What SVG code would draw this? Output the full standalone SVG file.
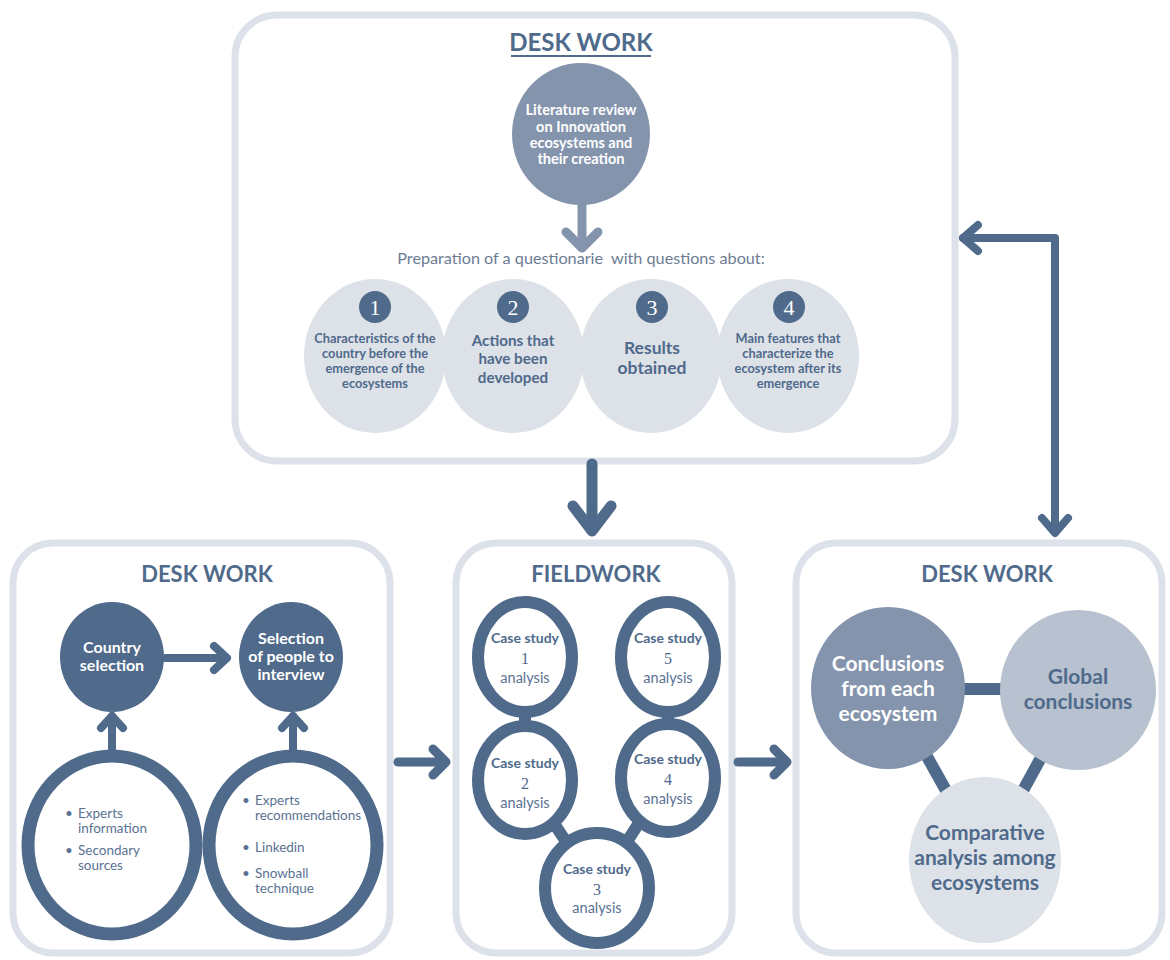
<svg xmlns="http://www.w3.org/2000/svg" width="1170" height="960" viewBox="0 0 1170 960">
<style>
  text { font-family: Lato, "Noto Sans", sans-serif; text-anchor: middle; }
  .panel { fill: #ffffff; stroke: #dde2ea; stroke-width: 7; }
  .title { font-weight: 700; fill: #4f6a8b; font-size: 22px; }
  .dark { fill: #4f6a8b; }
  .med { fill: #8494ad; }
  .lmed { fill: #b7c1cf; }
  .light { fill: #dde1e8; }
  .ring { fill: #ffffff; stroke: #4f6a8b; stroke-width: 12; }
  .wtxt { fill: #ffffff; font-weight: 700; }
  .dtxt { fill: #4f6a8b; font-weight: 700; }
  .ntxt { fill: #5a7292; font-weight: 400; }
  .num { font-family: "Liberation Serif", serif; fill: #ffffff; font-size: 22px; }
  .cnum { font-family: "Liberation Serif", serif; fill: #4f6a8b; font-size: 16px; }
  .conn { fill: none; stroke: #4f6a8b; stroke-linecap: round; stroke-linejoin: round; }
  .bar { stroke: #4f6a8b; stroke-width: 12; }
  .bul { text-anchor: start; }
</style>
<rect width="1170" height="960" fill="#ffffff"/>

<g id="panel-top">
  <rect class="panel" x="235" y="15" width="720" height="446" rx="42"/>
  <text class="title" x="581" y="51" style="font-size:24px">DESK WORK</text>
  <line x1="511" y1="56" x2="651" y2="56" stroke="#4f6a8b" stroke-width="1.8"/>
</g>
<g id="panel-left">
  <rect class="panel" x="13" y="543" width="377" height="410" rx="40"/>
  <text class="title" x="207" y="582">DESK WORK</text>
</g>
<g id="panel-field">
  <rect class="panel" x="456" y="543" width="276" height="410" rx="40"/>
  <text class="title" x="596" y="582">FIELDWORK</text>
</g>
<g id="panel-right">
  <rect class="panel" x="796" y="543" width="366" height="410" rx="40"/>
  <text class="title" x="987" y="582">DESK WORK</text>
</g>

<g id="connectors">
  <line x1="582" y1="200" x2="582" y2="246" stroke="#8494ad" stroke-width="9"/>
  <path d="M566,232 L582,248 L598,232" fill="none" stroke="#8494ad" stroke-width="9" stroke-linecap="round" stroke-linejoin="round"/>
  <path class="conn" d="M592,464 V530" stroke-width="11"/>
  <path class="conn" d="M573,506 L592,531 L611,506" stroke-width="11"/>
  <path class="conn" d="M398,762 H445" stroke-width="9"/>
  <path class="conn" d="M433,749 L446,762 L433,775" stroke-width="9"/>
  <path class="conn" d="M738,762 H786" stroke-width="9"/>
  <path class="conn" d="M774,749 L787,762 L774,775" stroke-width="9"/>
  <path class="conn" d="M963,238 H1055 V532" stroke-width="8"/>
  <path class="conn" d="M978,225 L963,238 L978,251" stroke-width="8"/>
  <path class="conn" d="M1042,518 L1055,533 L1068,518" stroke-width="8"/>
  <path class="conn" d="M165,658 H226" stroke-width="8"/>
  <path class="conn" d="M214,646 L227,658 L214,670" stroke-width="8"/>
  <path class="conn" d="M112,757 V716" stroke-width="8"/>
  <path class="conn" d="M101,728 L112,716 L123,728" stroke-width="8"/>
  <path class="conn" d="M293,757 V716" stroke-width="8"/>
  <path class="conn" d="M282,728 L293,716 L304,728" stroke-width="8"/>
  <line class="bar" x1="525" y1="657" x2="525" y2="780"/>
  <line class="bar" x1="668" y1="657" x2="668" y2="778"/>
  <line class="bar" x1="525" y1="780" x2="597" y2="888"/>
  <line class="bar" x1="668" y1="778" x2="597" y2="888"/>
  <line class="bar" x1="888" y1="689" x2="1078" y2="689"/>
  <line class="bar" x1="888" y1="687" x2="985" y2="860"/>
  <line class="bar" x1="1078" y1="690" x2="985" y2="860"/>
</g>

<g id="literature">
  <ellipse class="med" cx="581" cy="134" rx="69" ry="71"/>
  <text class="wtxt" style="font-size:14.6px"><tspan x="581" y="115">Literature review</tspan><tspan x="581" y="132">on Innovation</tspan><tspan x="581" y="148">ecosystems and</tspan><tspan x="581" y="164">their creation</tspan></text>
</g>
<g id="preparation">
  <text x="581" y="264" fill="#6c7c93" xml:space="preserve" style="font-size:16.2px">Preparation of a questionarie  with questions about:</text>
</g>
<g id="q1">
  <ellipse class="light" cx="375" cy="356" rx="71" ry="77"/>
  <circle class="dark" cx="375" cy="307" r="16"/>
  <text class="num" x="375" y="315">1</text>
  <text class="dtxt" style="font-size:12.8px"><tspan x="375" y="343">Characteristics of the</tspan><tspan x="375" y="358">country before the</tspan><tspan x="375" y="373">emergence of the</tspan><tspan x="375" y="388">ecosystems</tspan></text>
</g>
<g id="q2">
  <ellipse class="light" cx="513" cy="356" rx="71" ry="77"/>
  <circle class="dark" cx="513" cy="307" r="16"/>
  <text class="num" x="513" y="315">2</text>
  <text class="dtxt" style="font-size:15.2px"><tspan x="513" y="346">Actions that</tspan><tspan x="513" y="364">have been</tspan><tspan x="513" y="383">developed</tspan></text>
</g>
<g id="q3">
  <ellipse class="light" cx="651" cy="356" rx="71" ry="77"/>
  <circle class="dark" cx="652" cy="307" r="16"/>
  <text class="num" x="652" y="315">3</text>
  <text class="dtxt" style="font-size:17.5px"><tspan x="652" y="354">Results</tspan><tspan x="652" y="374">obtained</tspan></text>
</g>
<g id="q4">
  <ellipse class="light" cx="788" cy="356" rx="71" ry="77"/>
  <circle class="dark" cx="789" cy="307" r="16"/>
  <text class="num" x="789" y="315">4</text>
  <text class="dtxt" style="font-size:12.8px"><tspan x="788" y="343">Main features that</tspan><tspan x="788" y="358">characterize the</tspan><tspan x="788" y="373">ecosystem after its</tspan><tspan x="788" y="388">emergence</tspan></text>
</g>

<g id="country">
  <ellipse class="dark" cx="112" cy="657" rx="52" ry="55"/>
  <text class="wtxt" style="font-size:16px"><tspan x="112" y="653">Country</tspan><tspan x="112" y="671">selection</tspan></text>
</g>
<g id="people">
  <ellipse class="dark" cx="291" cy="657" rx="52" ry="55"/>
  <text class="wtxt" style="font-size:16px"><tspan x="291" y="644">Selection</tspan><tspan x="291" y="662">of people to</tspan><tspan x="291" y="680">interview</tspan></text>
</g>
<g id="sources">
  <ellipse class="ring" cx="112" cy="845" rx="84" ry="89" style="stroke-width:13"/>
  <text class="ntxt bul" style="font-size:13.5px"><tspan x="65" y="818">•</tspan><tspan x="78" y="818">Experts</tspan><tspan x="78" y="833">information</tspan><tspan x="65" y="855">•</tspan><tspan x="78" y="855">Secondary</tspan><tspan x="78" y="870">sources</tspan></text>
</g>
<g id="recruit">
  <ellipse class="ring" cx="293" cy="845" rx="84" ry="89" style="stroke-width:13"/>
  <text class="ntxt bul" style="font-size:13.5px"><tspan x="242" y="805">•</tspan><tspan x="255" y="805">Experts</tspan><tspan x="255" y="820">recommendations</tspan><tspan x="242" y="852">•</tspan><tspan x="255" y="852">Linkedin</tspan><tspan x="242" y="878">•</tspan><tspan x="255" y="878">Snowball</tspan><tspan x="255" y="893">technique</tspan></text>
</g>

<g id="cs1">
  <ellipse class="ring" cx="525" cy="657" rx="47" ry="55"/>
  <text class="dtxt" x="525" y="643" style="font-size:14px">Case study</text>
  <text class="cnum" x="525" y="664">1</text>
  <text class="ntxt" x="525" y="683" style="font-size:14.5px">analysis</text>
</g>
<g id="cs5">
  <ellipse class="ring" cx="668" cy="657" rx="47" ry="55"/>
  <text class="dtxt" x="668" y="643" style="font-size:14px">Case study</text>
  <text class="cnum" x="668" y="664">5</text>
  <text class="ntxt" x="668" y="683" style="font-size:14.5px">analysis</text>
</g>
<g id="cs2">
  <ellipse class="ring" cx="525" cy="780" rx="47" ry="54"/>
  <text class="dtxt" x="525" y="768" style="font-size:14px">Case study</text>
  <text class="cnum" x="525" y="789">2</text>
  <text class="ntxt" x="525" y="808" style="font-size:14.5px">analysis</text>
</g>
<g id="cs4">
  <ellipse class="ring" cx="668" cy="778" rx="47" ry="54"/>
  <text class="dtxt" x="668" y="764" style="font-size:14px">Case study</text>
  <text class="cnum" x="668" y="785">4</text>
  <text class="ntxt" x="668" y="804" style="font-size:14.5px">analysis</text>
</g>
<g id="cs3">
  <ellipse class="ring" cx="597" cy="888" rx="52" ry="55"/>
  <text class="dtxt" x="597" y="874" style="font-size:14px">Case study</text>
  <text class="cnum" x="597" y="895">3</text>
  <text class="ntxt" x="597" y="913" style="font-size:14.5px">analysis</text>
</g>

<g id="conclusions-each">
  <ellipse class="med" cx="888" cy="688" rx="77" ry="81"/>
  <text class="wtxt" style="font-size:21px"><tspan x="888" y="671">Conclusions</tspan><tspan x="888" y="696">from each</tspan><tspan x="888" y="721">ecosystem</tspan></text>
</g>
<g id="global">
  <ellipse class="lmed" cx="1078" cy="690" rx="78" ry="80"/>
  <text class="dtxt" style="font-size:21px"><tspan x="1078" y="684">Global</tspan><tspan x="1078" y="709">conclusions</tspan></text>
</g>
<g id="comparative">
  <ellipse class="light" cx="985" cy="860" rx="76" ry="83"/>
  <text class="dtxt" style="font-size:21px"><tspan x="985" y="840">Comparative</tspan><tspan x="985" y="865">analysis among</tspan><tspan x="985" y="890">ecosystems</tspan></text>
</g>
</svg>
